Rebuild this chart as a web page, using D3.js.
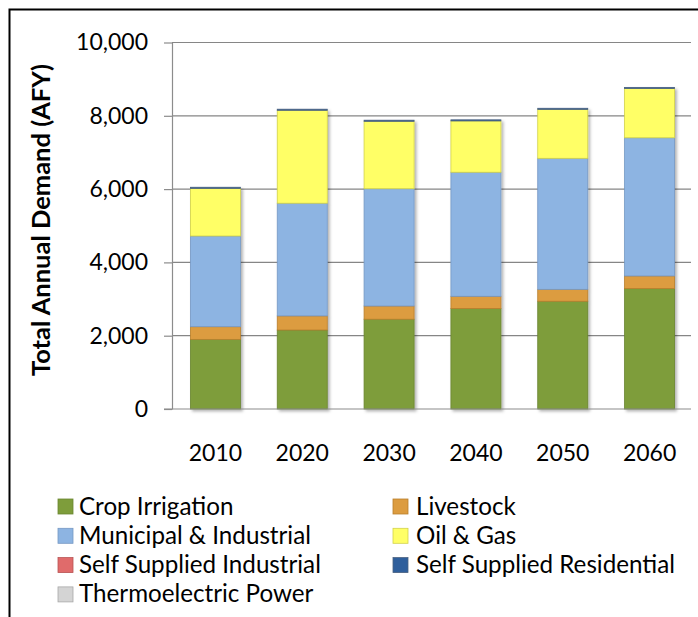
<!DOCTYPE html>
<html><head><meta charset="utf-8">
<script src="https://cdn.jsdelivr.net/npm/d3@7"></script>
<style>body{margin:0;background:#fff}svg{display:block}text{font-family:Lato,"Open Sans",sans-serif;fill:#000}</style>
</head><body><svg id="c" width="698" height="617"></svg>
<script>
const years = ["2010","2020","2030","2040","2050","2060"];
const seriesNames = ["Crop Irrigation","Livestock","Municipal & Industrial","Oil & Gas","Self Supplied Industrial","Self Supplied Residential","Thermoelectric Power"];
const cropIrrigation = [1900,2155,2450,2740,2940,3285];
const livestock = [345,385,360,335,325,345];
const municipalIndustrial = [2475,3075,3200,3385,3575,3770];
const oilGas = [1300,2535,1840,1400,1335,1345];
const selfSuppliedIndustrial = [0,0,0,0,0,0];
const selfSuppliedResidential = [30,30,30,30,30,30];
const thermoelectricPower = [0,0,0,0,0,0];
const yTicks = [0,2000,4000,6000,8000,10000];
const colors = ["#7e9d3b","#dc9c40","#8db4e2","#ffff66","#e06b6b","#2f5f9c","#d4d4d4"];
const strokes = ["#6a8530","#b97f2c","#7598c4","#d2d24a","#b85454","#4a6180","#a8a8a8"];

const seriesValues = [cropIrrigation,livestock,municipalIndustrial,oilGas,selfSuppliedIndustrial,selfSuppliedResidential,thermoelectricPower];
const rows = years.map((yr,i)=>{const o={year:yr};seriesNames.forEach((s,j)=>o[s]=seriesValues[j][i]);return o;});

const svg = d3.select("#c");
const defs = svg.append("defs");
const f = defs.append("filter").attr("id","sh").attr("x","-20%").attr("y","-20%").attr("width","150%").attr("height","150%");
f.append("feDropShadow").attr("dx",2).attr("dy",2).attr("stdDeviation",1.8).attr("flood-color","#000").attr("flood-opacity",0.3);

const x = d3.scaleBand().domain(years).range([172,693]).paddingInner(0.424).paddingOuter(0.212);
const y = d3.scaleLinear().domain([0,10000]).range([409,42.5]);

// gridlines
svg.append("g").selectAll("line").data(yTicks.filter(d=>d>0)).join("line")
  .attr("x1",172).attr("x2",691).attr("y1",d=>y(d)).attr("y2",d=>y(d))
  .attr("stroke","#868686").attr("stroke-width",1.2);

// bars
const stack = d3.stack().keys(seriesNames)(rows);
const barG = svg.append("g");
years.forEach((yr,i)=>{
  const g = barG.append("g").attr("filter","url(#sh)");
  stack.forEach((layer,j)=>{
    const d = layer[i];
    if (d[1]-d[0] <= 0) return;
    g.append("rect")
      .attr("x",x(yr)).attr("width",x.bandwidth())
      .attr("y",y(d[1])).attr("height",y(d[0])-y(d[1]))
      .attr("fill",colors[j]).attr("stroke",strokes[j]).attr("stroke-width",0.8);
  });
});

// y axis
const yAxis = svg.append("g").attr("transform","translate(172,0)")
  .call(d3.axisLeft(y).tickValues(yTicks).tickSize(8).tickSizeOuter(0).tickPadding(16).tickFormat(d3.format(",")));
yAxis.select(".domain").attr("stroke","#8c8c8c").attr("stroke-width",1.2);
yAxis.selectAll(".tick line").attr("stroke","#8c8c8c").attr("stroke-width",1.2);
yAxis.selectAll(".tick text").style("font-family","Lato, sans-serif").style("font-size","23px").attr("fill","#000");

// x axis
svg.append("line").attr("x1",164).attr("x2",691).attr("y1",y(0)).attr("y2",y(0)).attr("stroke","#8c8c8c").attr("stroke-width",1.2);
const xAxis = svg.append("g").attr("transform",`translate(0,${y(0)})`)
  .call(d3.axisBottom(x).tickSize(0).tickPadding(36));
xAxis.select(".domain").remove();
xAxis.selectAll(".tick text").style("font-family","Lato, sans-serif").style("font-size","23px").attr("fill","#000");

// y title
svg.append("text").attr("transform","translate(50,220) rotate(-90)")
  .attr("text-anchor","middle").style("font-weight","bold").style("font-size","25.5px")
  .text("Total Annual Demand (AFY)");

// legend
const lg = svg.append("g");
seriesNames.forEach((s,j)=>{
  const col = j%2, row = Math.floor(j/2);
  const sx = col===0 ? 58 : 393;
  const tx = col===0 ? 79 : 416;
  const sy = 499 + row*29.3;
  lg.append("rect").attr("x",sx).attr("y",sy).attr("width",15).attr("height",15)
    .attr("fill",colors[j]).attr("stroke",strokes[j]).attr("stroke-width",0.8);
  lg.append("text").attr("x",tx).attr("y",sy+15.5).style("font-size","24.2px").text(s);
});

// frame
svg.append("path").attr("d","M9.5,617V9.5H698").attr("fill","none").attr("stroke","#000").attr("stroke-width",2);
</script></body></html>
